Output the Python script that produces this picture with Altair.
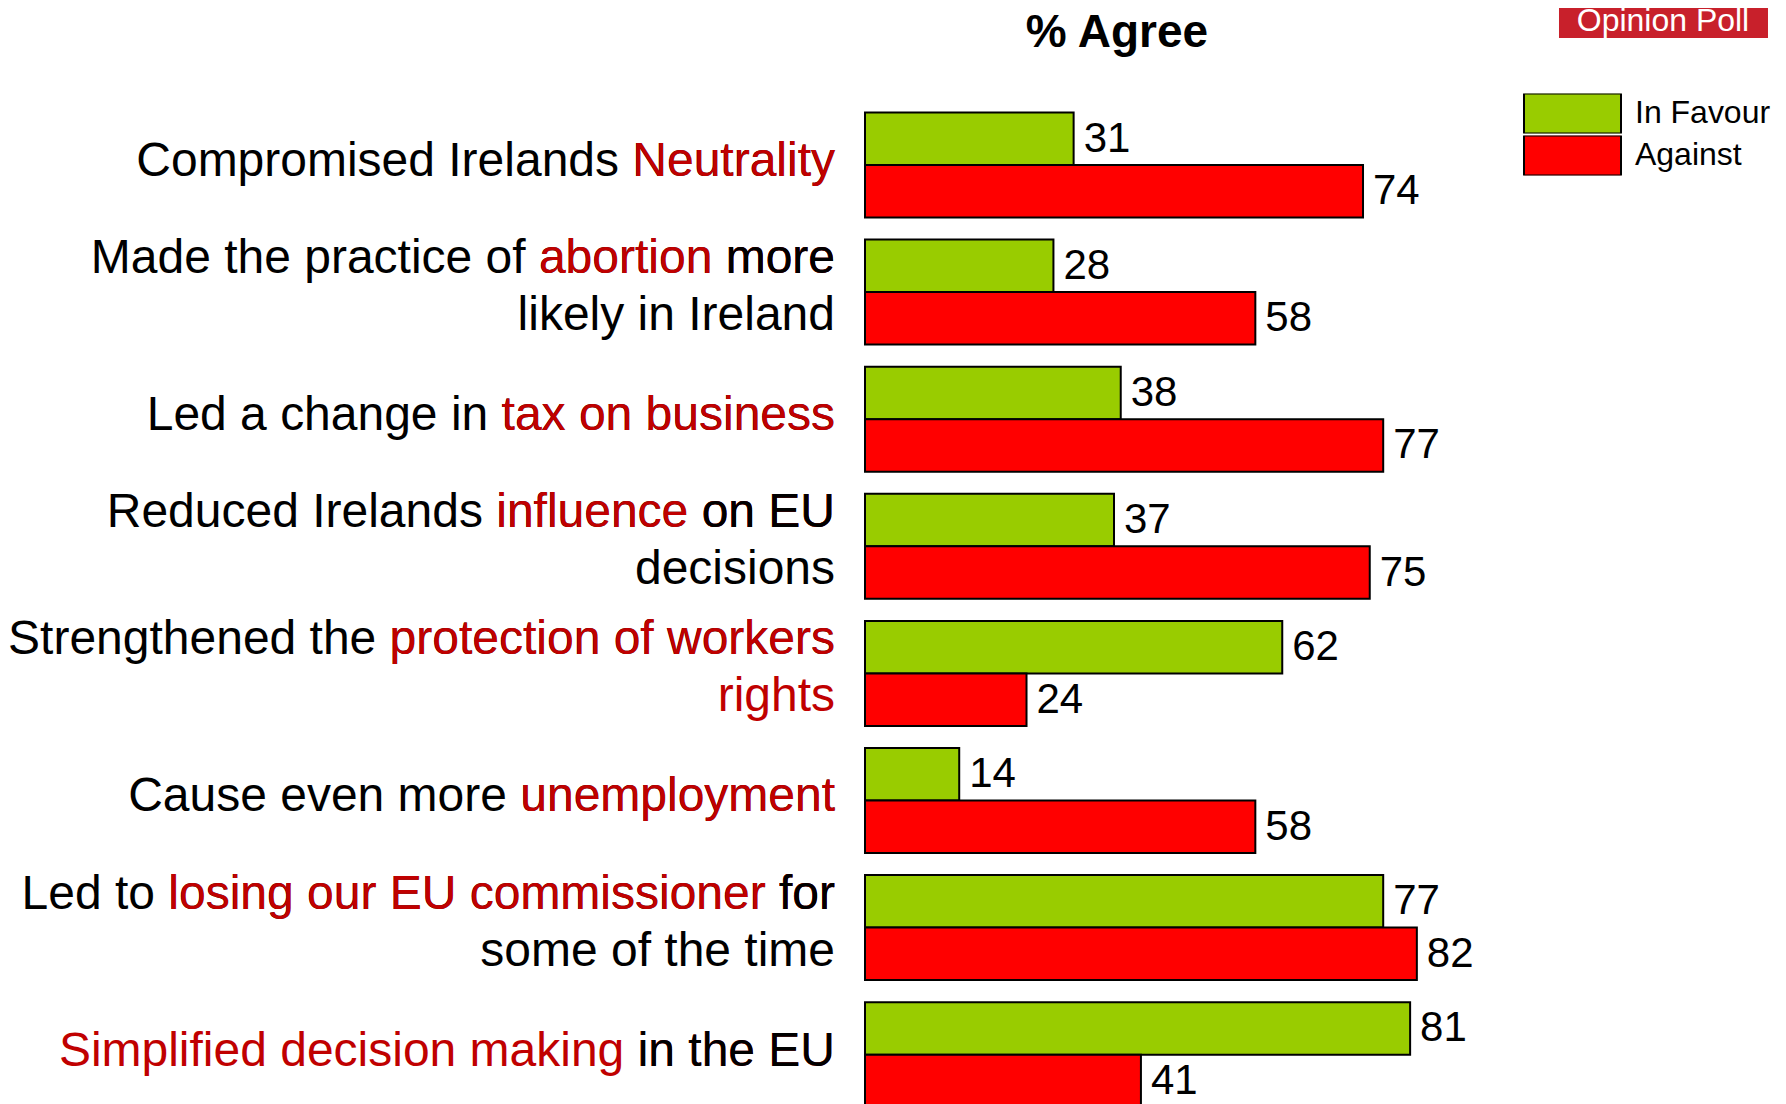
import altair as alt
import pandas as pd

FONT = "Liberation Sans"
K = "#000000"
R = "#C00000"

# Row labels as coloured segments, one list per text line
label_segments = [
    [[("Compromised Irelands ", K), ("Neutrality", R)]],
    [[("Made the practice of ", K), ("abortion", R), (" more", K)], [("likely in Ireland", K)]],
    [[("Led a change in ", K), ("tax on business", R)]],
    [[("Reduced Irelands ", K), ("influence", R), (" on EU", K)], [("decisions", K)]],
    [[("Strengthened the ", K), ("protection of workers", R)], [("rights", R)]],
    [[("Cause even more ", K), ("unemployment", R)]],
    [[("Led to ", K), ("losing our EU commissioner", R), (" for", K)], [("some of the time", K)]],
    [[("Simplified decision making", R), (" in the EU", K)]],
]
categories = [" ".join("".join(t for t, _ in line) for line in rows) for rows in label_segments]

series = ["In Favour", "Against"]
in_favour = [31, 28, 38, 37, 62, 14, 77, 81]
against = [74, 58, 77, 75, 24, 58, 82, 41]
bar_colors = ["#99CC00", "#FF0000"]

records = []
for c, f, a in zip(categories, in_favour, against):
    records.append({"cat": c, "series": "In Favour", "value": f})
    records.append({"cat": c, "series": "Against", "value": a})
df = pd.DataFrame(records)

label_records = []
for c, rows in zip(categories, label_segments):
    n = len(rows)
    for li, line in enumerate(rows):
        for j in range(len(line)):
            suffix = "".join(t for t, _ in line[j:]).strip()
            txt = [""] * n
            txt[li] = suffix
            label_records.append({"cat": c, "txt": txt, "col": line[j][1], "n": n})

yscale = alt.Scale(domain=categories, paddingInner=0.174, paddingOuter=0)
xscale = alt.Scale(domain=[0, 100], nice=False)

bars = alt.Chart(df).mark_bar(stroke="black", strokeWidth=2).encode(
    x=alt.X("value:Q", scale=xscale, axis=None),
    y=alt.Y("cat:N", scale=yscale, axis=None, sort=categories),
    yOffset=alt.YOffset("series:N", sort=series,
                        scale=alt.Scale(domain=series, paddingInner=0, paddingOuter=0)),
    color=alt.Color(
        "series:N",
        scale=alt.Scale(domain=series, range=bar_colors),
        legend=alt.Legend(
            title=None,
            orient="none",
            legendX=658,
            legendY=-19,
            padding=0,
            rowPadding=2,
            clipHeight=40,
            symbolType="M-1,-1H3.85V1H-1Z",
            symbolSize=1600,
            symbolStrokeColor="black",
            symbolStrokeWidth=2,
            symbolOpacity=1,
            labelFont=FONT,
            labelFontSize=32,
            labelColor="black",
            labelOffset=70,
        ),
    ),
)

values = alt.Chart(df).mark_text(
    align="left", baseline="middle", dx=10, fontSize=42, font=FONT, color="black"
).encode(
    x=alt.X("value:Q", scale=xscale),
    y=alt.Y("cat:N", scale=yscale, sort=categories),
    yOffset=alt.YOffset("series:N", sort=series),
    text=alt.Text("value:Q"),
)


def label_layer(nlines, dy):
    return alt.Chart(alt.Data(values=label_records)).transform_filter(
        alt.datum.n == nlines
    ).mark_text(
        align="right", baseline="middle", dx=-30, dy=dy, fontSize=48, lineHeight=57, font=FONT
    ).encode(
        x=alt.datum(0),
        y=alt.Y("cat:N", scale=yscale, sort=categories),
        text=alt.Text("txt:N"),
        color=alt.Color("col:N", scale=None),
    )


labels1 = label_layer(1, -3)
labels2 = label_layer(2, -33)

title = alt.Chart(alt.Data(values=[{"t": "% Agree"}])).mark_text(
    align="center", baseline="alphabetic", fontSize=46, fontWeight="bold", font=FONT, color="black"
).encode(x=alt.value(252), y=alt.value(-65.5), text="t:N")

box = alt.Chart(alt.Data(values=[{"t": "Opinion Poll"}])).mark_rect(color="#C8202B").encode(
    x=alt.value(694), x2=alt.value(903), y=alt.value(-104.5), y2=alt.value(-74.5)
)
box_text = alt.Chart(alt.Data(values=[{"t": "Opinion Poll"}])).mark_text(
    align="center", baseline="alphabetic", fontSize=32, font=FONT, color="white"
).encode(x=alt.value(798), y=alt.value(-81.5), text="t:N")

chart = alt.layer(bars, values, labels1, labels2, title, box, box_text).properties(
    width=673,
    height=994.7,
    padding={"left": 857, "top": 104.5, "right": 240, "bottom": 0},
    autosize=alt.AutoSizeParams(type="none"),
).configure_view(stroke=None)

chart.save("out.html", embed_options={"renderer": "svg", "actions": False})
